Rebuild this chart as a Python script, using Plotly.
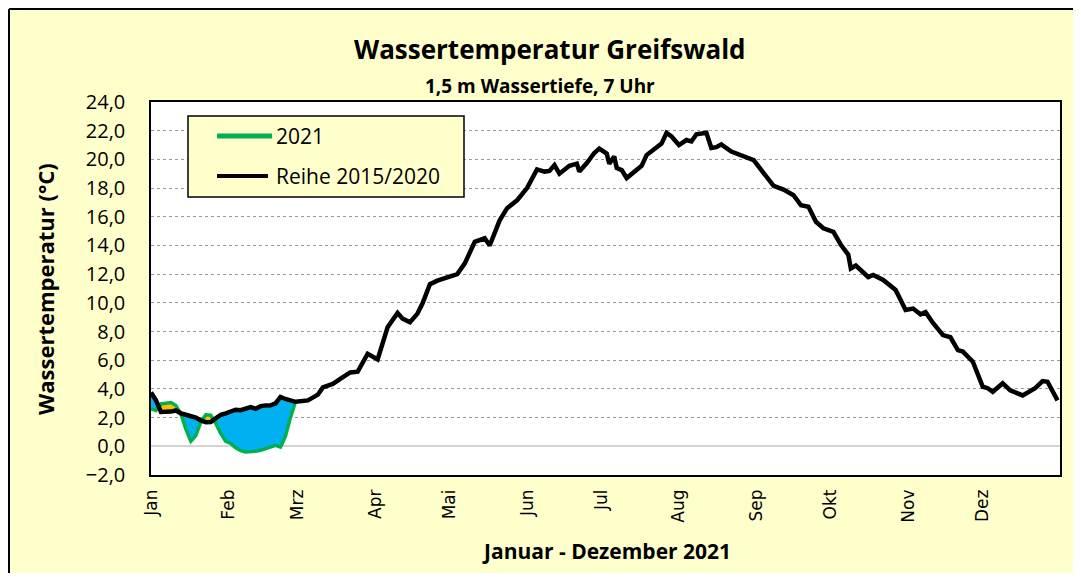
import numpy as np
import plotly.graph_objects as go

# ---------------- data ----------------
month_labels = ["Jan", "Feb", "Mrz", "Apr", "Mai", "Jun", "Jul", "Aug", "Sep", "Okt", "Nov", "Dez"]
month_start_days = [0, 31, 59, 90, 120, 151, 181, 212, 243, 273, 304, 334]

# 2021 measurements (day of year, 0 = 1 Jan)
days_2021 = [0, 2, 4, 6, 8, 10, 12, 14, 16, 18, 20, 22, 24, 26, 28,
             30, 32, 34, 36, 38, 40, 42, 44, 46, 48, 50, 52, 54, 56, 58]
temp_2021 = [2.6, 2.5, 2.95, 3.0, 3.05, 2.85, 2.25, 1.2, 0.35, 0.75, 1.7, 2.2, 2.17, 1.6, 0.9,
             0.35, 0.2, -0.1, -0.3, -0.4, -0.4, -0.35, -0.28, -0.18, -0.05, 0.07, -0.05, 0.7, 2.0, 3.1]

# reference series 2015/2020, same days as 2021 for Jan/Feb
ref_early = [3.75, 3.2, 2.4, 2.38, 2.42, 2.5, 2.3, 2.2, 2.1, 2.0, 1.8, 1.68, 1.7, 1.95, 2.2,
             2.3, 2.45, 2.55, 2.52, 2.6, 2.74, 2.62, 2.8, 2.84, 2.86, 3.0, 3.44, 3.3, 3.2, 3.1]

# reference series 2015/2020, rest of the year
ref_days_late = [63, 67, 69, 73, 76, 80, 83, 85, 87, 91, 93, 95, 99, 101, 104, 107, 109, 112, 115,
                 119, 122, 123, 126, 130, 134, 136, 140, 143, 147, 151, 155, 158, 160, 162, 164,
                 168, 171, 172, 175, 178, 180, 183, 184, 186, 187, 189, 191, 194, 197, 199, 203,
                 205, 207, 209, 212, 215, 217, 219, 223, 225, 227, 229, 233, 238, 242, 246, 250,
                 254, 258, 261, 264, 267, 270, 274, 277, 280, 281, 283, 288, 290, 294, 299, 303,
                 306, 309, 311, 314, 318, 321, 324, 326, 330, 334, 336, 338, 342, 345, 350, 353,
                 355, 358, 360, 364]
ref_late = [3.2, 3.6, 4.1, 4.35, 4.7, 5.15, 5.2, 5.85, 6.45, 6.05, 7.15, 8.3, 9.3, 8.9, 8.65, 9.25,
            9.95, 11.3, 11.55, 11.75, 11.95, 12.0, 12.75, 14.25, 14.5, 14.0, 15.75, 16.6, 17.15,
            18.0, 19.3, 19.15, 19.2, 19.6, 19.0, 19.55, 19.7, 19.15, 19.75, 20.45, 20.75, 20.4,
            19.7, 20.2, 19.4, 19.25, 18.7, 19.15, 19.55, 20.3, 20.9, 21.1, 21.85, 21.6, 21.0,
            21.35, 21.25, 21.75, 21.85, 20.8, 20.85, 21.05, 20.55, 20.25, 19.95, 19.05, 18.15,
            17.9, 17.5, 16.8, 16.7, 15.65, 15.2, 14.95, 14.05, 13.35, 12.4, 12.6, 11.8, 11.95,
            11.6, 10.9, 9.5, 9.6, 9.2, 9.35, 8.6, 7.75, 7.6, 6.7, 6.6, 5.9, 4.15, 4.05, 3.8, 4.4,
            3.9, 3.55, 3.9, 4.05, 4.55, 4.5, 3.2]

y_ticks = list(range(-2, 25, 2))

# ---------------- helpers ----------------
ref_days = days_2021 + ref_days_late
ref_vals = ref_early + ref_late


def split_at_crossings(x, a, b):
    xs, A, B = [x[0]], [a[0]], [b[0]]
    for i in range(1, len(x)):
        d0 = b[i - 1] - a[i - 1]
        d1 = b[i] - a[i]
        if d0 * d1 < 0:
            t = d0 / (d0 - d1)
            xc = x[i - 1] + t * (x[i] - x[i - 1])
            yc = a[i - 1] + t * (a[i] - a[i - 1])
            xs.append(xc); A.append(yc); B.append(yc)
        xs.append(x[i]); A.append(a[i]); B.append(b[i])
    return np.array(xs), np.array(A), np.array(B)


fx, fa, fb = split_at_crossings(days_2021, ref_early, temp_2021)

BG = "#FFFFCC"
GREEN = "#00B050"
BLUE = "#00B0F0"
ORANGE = "#FFC000"
FONT = "Open Sans"

fig = go.Figure()

# blue fill: 2021 colder than reference
fig.add_trace(go.Scatter(x=fx, y=fa, mode="lines", line=dict(width=0), hoverinfo="skip", showlegend=False))
fig.add_trace(go.Scatter(x=fx, y=np.minimum(fa, fb), mode="lines", line=dict(width=0),
                         fill="tonexty", fillcolor=BLUE, hoverinfo="skip", showlegend=False))
# orange fill: 2021 warmer than reference
fig.add_trace(go.Scatter(x=fx, y=fa, mode="lines", line=dict(width=0), hoverinfo="skip", showlegend=False))
fig.add_trace(go.Scatter(x=fx, y=np.maximum(fa, fb), mode="lines", line=dict(width=0),
                         fill="tonexty", fillcolor=ORANGE, hoverinfo="skip", showlegend=False))

fig.add_trace(go.Scatter(x=days_2021, y=temp_2021, mode="lines", name="2021",
                         line=dict(color=GREEN, width=3.5), showlegend=False))
fig.add_trace(go.Scatter(x=ref_days, y=ref_vals, mode="lines", name="Reihe 2015/2020",
                         line=dict(color="black", width=4.5), showlegend=False))

# page pixel -> paper helpers (page has an 8px body margin)
OFF = 8
W, H = 1081 - 2 * OFF, 581 - 2 * OFF
L, R, T, B = 151 - OFF, 1060 - OFF, 102 - OFF, 475 - OFF


def px(x):
    return (x - OFF - L) / (R - L)


def py(y):
    return (B - (y - OFF)) / (B - T)


shapes = [
    # outer chart frame: top and left edges
    dict(type="line", xref="paper", yref="paper", x0=px(9), x1=px(1100), y0=py(9), y1=py(9),
         line=dict(color="black", width=2), layer="below"),
    dict(type="line", xref="paper", yref="paper", x0=px(9), x1=px(9), y0=py(9), y1=py(620),
         line=dict(color="black", width=2), layer="below"),
    # legend box
    dict(type="rect", xref="paper", yref="paper", x0=px(188), x1=px(464), y0=py(197), y1=py(116),
         fillcolor=BG, line=dict(color="black", width=1.5)),
    dict(type="line", xref="paper", yref="paper", x0=px(217), x1=px(272), y0=py(136), y1=py(136),
         line=dict(color=GREEN, width=5)),
    dict(type="line", xref="paper", yref="paper", x0=px(217), x1=px(268), y0=py(176), y1=py(176),
         line=dict(color="black", width=4)),
]

annotations = [
    dict(text="<b>Wassertemperatur Greifswald</b>", xref="paper", yref="paper", x=px(550), y=py(49),
         showarrow=False, font=dict(family=FONT, size=26, color="black"), xanchor="center", yanchor="middle"),
    dict(text="<b>1,5 m Wassertiefe, 7 Uhr</b>", xref="paper", yref="paper", x=px(540), y=py(86),
         showarrow=False, font=dict(family=FONT, size=19, color="black"), xanchor="center", yanchor="middle"),
    dict(text="<b>Wassertemperatur (°C)</b>", xref="paper", yref="paper", x=px(45), y=py(289),
         showarrow=False, textangle=-90, font=dict(family=FONT, size=22, color="black"),
         xanchor="center", yanchor="middle"),
    dict(text="<b>Januar - Dezember 2021</b>", xref="paper", yref="paper", x=px(606), y=py(551),
         showarrow=False, font=dict(family=FONT, size=21, color="black"), xanchor="center", yanchor="middle"),
    dict(text="2021", xref="paper", yref="paper", x=px(274), y=py(136), showarrow=False,
         font=dict(family=FONT, size=21, color="black"), xanchor="left", yanchor="middle"),
    dict(text="Reihe 2015/2020", xref="paper", yref="paper", x=px(274), y=py(176), showarrow=False,
         font=dict(family=FONT, size=21, color="black"), xanchor="left", yanchor="middle"),
]

fig.update_layout(
    width=W, height=H,
    margin=dict(l=L, r=W - R, t=T, b=H - B),
    paper_bgcolor=BG, plot_bgcolor="white",
    separators=",.",
    shapes=shapes, annotations=annotations,
    showlegend=False,
    font=dict(family=FONT, color="black"),
)

fig.update_xaxes(
    range=[0, 365], tickmode="array", tickvals=month_start_days, ticktext=month_labels,
    tickangle=-90, showgrid=False, zeroline=False, ticks="",
    showline=True, linecolor="black", linewidth=1.5, mirror=True,
    tickfont=dict(family="DejaVu Sans", size=17, color="black"), ticklabelstandoff=6,
)
fig.update_yaxes(
    range=[-2, 24], tickmode="array", tickvals=y_ticks, tickformat=".1f",
    showgrid=True, gridcolor="#9A9A9A", griddash="dot", gridwidth=1,
    zeroline=True, zerolinecolor="#D4D4D4", zerolinewidth=2,
    showline=True, linecolor="black", linewidth=1.5, mirror=True, ticks="",
    tickfont=dict(family=FONT, size=20, color="black"), ticklabelstandoff=20,
)

fig.write_html("out.html")
